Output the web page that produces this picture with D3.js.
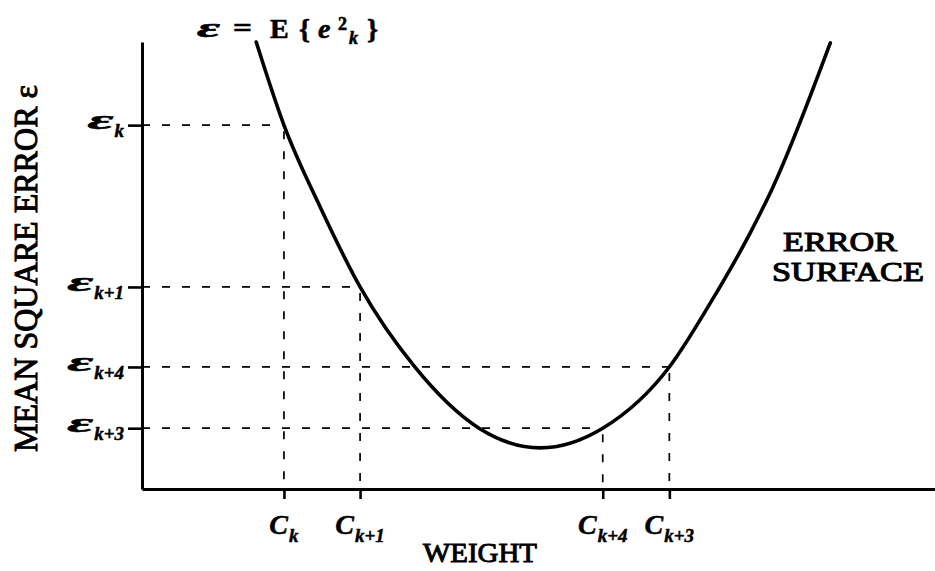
<!DOCTYPE html>
<html><head><meta charset="utf-8">
<script src="https://cdn.jsdelivr.net/npm/d3@7"></script>
<style>body{margin:0;background:#fff} svg{display:block}</style>
</head><body>
<svg id="chart" width="935" height="571"></svg>
<script>
// ---- data ----
const weightLabels = ["k", "k+1", "k+4", "k+3"];
const weightValues = [17.9, 27.5, 58.1, 66.5];
const errorLabels = ["k", "k+1", "k+4", "k+3"];
const errorValues = [81.4, 45.2, 27.3, 13.6];
// weight index at which each error level meets the curve
const guideWeightIndex = [0, 1, 3, 2];
// error surface
const curveWeight = [14.4, 17.9, 22.6, 27.5, 34.4, 42.5, 50.2, 58.1, 66.5, 71.6, 76.7, 79.4, 86.8];
const curveError  = [100, 81.4, 62.6, 45.2, 27.3, 13.6, 9.2, 13.6, 27.3, 41.4, 57.3, 66.9, 99.8];

const svg = d3.select("#chart");
const FONT = "'Liberation Serif', 'Times New Roman', serif";
const x = d3.scaleLinear().domain([0, 100]).range([142, 935]);
const y = d3.scaleLinear().domain([0, 100]).range([489, 42]);

// guides
const g = svg.append("g").attr("stroke", "#000").attr("stroke-width", 1.7)
  .attr("stroke-dasharray", "8,12").attr("fill", "none");
errorValues.forEach((e, i) => {
  const w = weightValues[guideWeightIndex[i]];
  g.append("line").attr("x1", x(0)).attr("x2", x(w)).attr("y1", y(e)).attr("y2", y(e));
  g.append("line").attr("x1", x(w)).attr("x2", x(w)).attr("y1", y(e) + 6).attr("y2", y(0));
});

// axes
const yAxis = svg.append("g").attr("transform", `translate(${x(0)},0)`)
  .call(d3.axisLeft(y).tickValues(errorValues).tickSize(14).tickSizeOuter(0).tickFormat(""));
const xAxis = svg.append("g").attr("transform", `translate(0,${y(0)})`)
  .call(d3.axisBottom(x).tickValues(weightValues).tickSize(10).tickSizeOuter(0).tickFormat(""));
[yAxis, xAxis].forEach(a => {
  a.select(".domain").attr("stroke", "#000").attr("stroke-width", 3);
  a.selectAll(".tick line").attr("stroke", "#000").attr("stroke-width", 2.6);
});

// curve
const pts = curveWeight.map((w, i) => [w, curveError[i]]);
svg.append("path").datum(pts)
  .attr("d", d3.line().x(d => x(d[0])).y(d => y(d[1])).curve(d3.curveMonotoneX))
  .attr("fill", "none").attr("stroke", "#000").attr("stroke-width", 3.6).attr("stroke-linecap", "round");

// helper: symbol with subscript
function symLabel(sym, sub, symSize, symWidth, subSize) {
  const grp = svg.append("g").attr("font-family", FONT).attr("font-style", "italic").attr("font-weight", "bold")
    .attr("stroke", "#000").attr("stroke-width", 0.5);
  const t1 = grp.append("text").attr("font-size", symSize).text(sym);
  if (symWidth) t1.attr("textLength", symWidth).attr("lengthAdjust", "spacingAndGlyphs");
  const w1 = symWidth || t1.node().getComputedTextLength();
  const t2 = grp.append("text").attr("font-size", subSize).attr("x", w1 + 1).attr("y", 8).text(sub);
  const w2 = t2.node().getComputedTextLength();
  return {grp, width: w1 + 1 + w2};
}

// y tick labels
errorValues.forEach((e, i) => {
  const L = symLabel("ε", errorLabels[i], 27, 26, 19);
  L.grp.attr("transform", `translate(${124 - L.width},${y(e) + 4})`);
});
// x tick labels
weightValues.forEach((w, i) => {
  const L = symLabel("C", weightLabels[i], 28, null, 19);
  L.grp.attr("transform", `translate(${x(w) - L.width / 2},${534})`);
});

// axis titles
svg.append("text").attr("font-family", FONT).attr("font-size", 28)
  .attr("stroke", "#000").attr("stroke-width", 1)
  .attr("x", 480).attr("y", 562).attr("text-anchor", "middle")
  .attr("textLength", 114).attr("lengthAdjust", "spacingAndGlyphs").text("WEIGHT");
svg.append("text").attr("font-family", FONT).attr("font-size", 33)
  .attr("stroke", "#000").attr("stroke-width", 1)
  .attr("transform", "translate(37,452) rotate(-90)")
  .attr("textLength", 367).attr("lengthAdjust", "spacingAndGlyphs")
  .text("MEAN SQUARE ERROR ε");

// annotation
const annStyle = t => t.attr("font-family", FONT).attr("font-size", 27)
  .attr("stroke", "#000").attr("stroke-width", 1).attr("text-anchor", "middle")
  .attr("lengthAdjust", "spacingAndGlyphs");
annStyle(svg.append("text")).attr("x", 840).attr("y", 251).attr("textLength", 114).text("ERROR");
annStyle(svg.append("text")).attr("x", 848).attr("y", 281).attr("textLength", 152).text("SURFACE");

// title formula
const tt = svg.append("g").attr("font-family", FONT).attr("font-weight", "bold").attr("font-size", 28)
  .attr("stroke", "#000").attr("stroke-width", 0.6);
tt.append("text").attr("x", 197).attr("y", 37).attr("font-style", "italic")
  .attr("textLength", 23).attr("lengthAdjust", "spacingAndGlyphs").text("ε");
tt.append("text").attr("x", 233).attr("y", 37).attr("textLength", 19).attr("lengthAdjust", "spacingAndGlyphs").text("=");
tt.append("text").attr("x", 270).attr("y", 38).text("E");
tt.append("text").attr("x", 299).attr("y", 38).text("{");
tt.append("text").attr("x", 318).attr("y", 38).attr("font-style", "italic").text("e");
tt.append("text").attr("x", 338).attr("y", 30).attr("font-size", 18).text("2");
tt.append("text").attr("x", 349).attr("y", 44).attr("font-size", 18).attr("font-style", "italic").text("k");
tt.append("text").attr("x", 367).attr("y", 38).text("}");
</script>
</body></html>
